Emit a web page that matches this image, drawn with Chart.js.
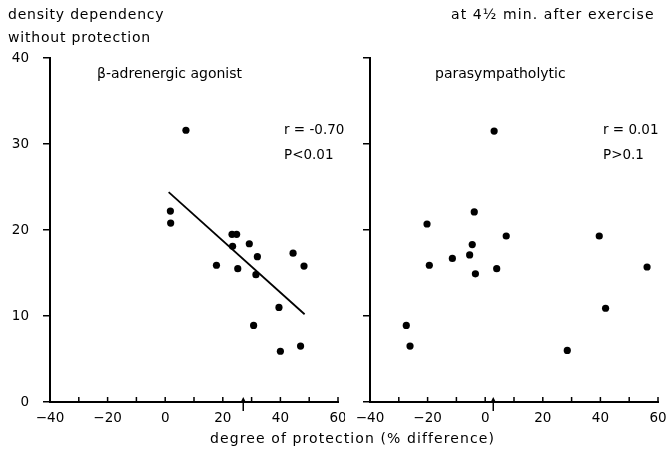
<!DOCTYPE html>
<html>
<head>
<meta charset="utf-8">
<script src="https://cdn.jsdelivr.net/npm/chart.js@4"></script>
<style>
  body { margin: 0; background: #fff; width: 668px; height: 456px; position: relative; overflow: hidden;
         font-family: "DejaVu Sans", sans-serif; color: #000; }
  canvas { position: absolute; top: 0; }
  .txt { position: absolute; font-size: 14px; white-space: nowrap; line-height: 1; }
  .wide { letter-spacing: 0.8px; }
  .note { font-size: 13.5px; }
</style>
</head>
<body>
<canvas id="left-chart" width="345" height="456" style="left:0"></canvas>
<canvas id="right-chart" width="323" height="456" style="left:345px"></canvas>

<div class="txt wide" style="left:8px;top:7px">density dependency</div>
<div class="txt wide" style="left:8px;top:30px">without protection</div>
<div class="txt" style="left:451px;top:7px;letter-spacing:1.1px">at 4½ min. after exercise</div>
<div class="txt" style="left:97px;top:66px">β-adrenergic agonist</div>
<div class="txt" style="left:435px;top:66px">parasympatholytic</div>
<div class="txt note" style="left:284px;top:123px">r = -0.70</div>
<div class="txt note" style="left:284px;top:148px">P&lt;0.01</div>
<div class="txt note" style="left:603px;top:123px">r = 0.01</div>
<div class="txt note" style="left:603px;top:148px">P&gt;0.1</div>
<div class="txt" style="left:210px;top:431px;letter-spacing:1.1px">degree of protection (% difference)</div>

<script>
// left panel: beta-adrenergic agonist
const agonistX = [1.8, 1.9, 7.2, 23.2, 24.8, 23.4, 29.2, 32.0, 17.8, 25.2, 31.5, 44.4, 48.2, 39.5, 30.7, 40.0, 47.0];
const agonistY = [22.2, 20.8, 31.6, 19.5, 19.5, 18.1, 18.4, 16.9, 15.9, 15.5, 14.8, 17.3, 15.8, 11.0, 8.9, 5.9, 6.5];
const fitX = [1.2, 48.4];
const fitY = [24.4, 10.2];
const agonistArrow = 27.1;

// right panel: parasympatholytic
const parasympX = [3.1, -3.8, -20.2, 7.3, -4.5, -5.4, -11.4, -19.4, -3.4, 4.0, 39.6, 56.2, 41.8, -27.4, -26.1, 28.5];
const parasympY = [31.5, 22.1, 20.7, 19.3, 18.3, 17.1, 16.7, 15.9, 14.9, 15.5, 19.3, 15.7, 10.9, 8.9, 6.5, 6.0];
const parasympArrow = 2.8;

const xMin = -40, xMax = 60, xStep = 10;
const yMin = 0, yMax = 40, yStep = 10;

const FONT = { family: '"DejaVu Sans", sans-serif', size: 13.5 };

const toPoints = (xs, ys) => xs.map((x, i) => ({ x, y: ys[i] }));

// short tick marks pointing up into the plot + the little arrow under the axis
const xMarks = {
  id: 'xMarks',
  afterDraw(chart, args, opts) {
    const ctx = chart.ctx;
    const xs = chart.scales.x;
    const bottom = chart.chartArea.bottom;
    ctx.save();
    ctx.strokeStyle = '#000';
    ctx.fillStyle = '#000';
    ctx.lineWidth = 1.5;
    xs.ticks.forEach(t => {
      const px = xs.getPixelForValue(t.value);
      ctx.beginPath();
      ctx.moveTo(px, bottom);
      ctx.lineTo(px, bottom - 5);
      ctx.stroke();
    });
    const ax = xs.getPixelForValue(opts.arrow);
    ctx.beginPath();
    ctx.moveTo(ax, bottom + 9);
    ctx.lineTo(ax, bottom - 2);
    ctx.stroke();
    ctx.beginPath();
    ctx.moveTo(ax - 3, bottom + 1);
    ctx.lineTo(ax, bottom - 5);
    ctx.lineTo(ax + 3, bottom + 1);
    ctx.closePath();
    ctx.fill();
    ctx.restore();
  }
};

function makeChart(id, datasets, arrow, yAxisWidth, showYLabels, padRight) {
  return new Chart(document.getElementById(id), {
    type: 'scatter',
    data: { datasets },
    plugins: [xMarks],
    options: {
      responsive: false,
      animation: false,
      layout: { padding: { top: 58, right: padRight, bottom: 0, left: 0 } },
      plugins: {
        legend: { display: false },
        tooltip: { enabled: false },
        xMarks: { arrow }
      },
      scales: {
        x: {
          type: 'linear',
          min: xMin, max: xMax,
          afterFit: s => { s.height = 54; s.paddingLeft = 0; s.paddingRight = 0; },
          border: { display: true, color: '#000', width: 2 },
          grid: { display: true, drawOnChartArea: false, drawTicks: false, color: '#000' },
          ticks: {
            stepSize: xStep, autoSkip: false, maxRotation: 0, color: '#000', font: FONT, padding: 8,
            callback: v => (v % 20 === 0 ? String(v).replace('-', '\u2212') : '')
          }
        },
        y: {
          type: 'linear',
          min: yMin, max: yMax,
          afterFit: s => { s.width = yAxisWidth; s.paddingTop = 0; s.paddingBottom = 0; },
          border: { display: true, color: '#000', width: 2 },
          grid: { display: true, drawOnChartArea: false, drawTicks: true, tickLength: 7, color: '#000', lineWidth: 1.5 },
          ticks: {
            stepSize: yStep, color: '#000', font: FONT, padding: 14,
            callback: v => (showYLabels ? v : '')
          }
        }
      }
    }
  });
}

const dotStyle = {
  pointRadius: 3.6,
  pointBackgroundColor: '#000',
  pointBorderColor: '#000',
  pointBorderWidth: 0,
  clip: false
};

makeChart('left-chart', [
  Object.assign({ data: toPoints(agonistX, agonistY) }, dotStyle),
  {
    data: toPoints(fitX, fitY),
    showLine: true,
    borderColor: '#000',
    borderWidth: 1.8,
    pointRadius: 0
  }
], agonistArrow, 50, true, 7);

makeChart('right-chart', [
  Object.assign({ data: toPoints(parasympX, parasympY) }, dotStyle)
], parasympArrow, 25, false, 10);
</script>
</body>
</html>
